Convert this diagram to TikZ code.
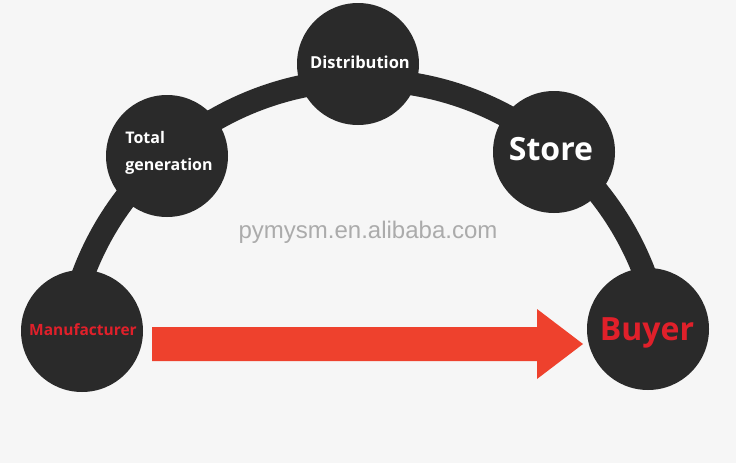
\documentclass[tikz,border=0pt]{standalone}
\usepackage{fontspec}
\setmainfont{Open Sans}
\newfontfamily\wmfont{Liberation Sans}
\definecolor{bg}{HTML}{F6F6F6}
\definecolor{disc}{HTML}{2A2A2A}
\definecolor{arrowred}{HTML}{EE412D}
\definecolor{textred}{HTML}{E0202A}
\begin{document}
\begin{tikzpicture}[x=1pt,y=-1pt,
  stage/.style={circle,fill=disc,minimum size=122pt,inner sep=0pt,font=\bfseries,text=white},
  redlabel/.style={text=textred}]
\fill[bg] (0,0) rectangle (736,463);
\useasboundingbox (0,0) rectangle (736,463);
% arc
\draw[disc,line width=23pt] (68.6,327.9) arc[start angle=170,end angle=10,radius=300pt];
% stages
\node[stage] (man) at (82,331) {};
\node[stage] (tot) at (167,156) {};
\node[stage] (dis) at (358,64) {};
\node[stage] (sto) at (554,152) {};
\node[stage] (buy) at (648,329) {};
\node[font=\bfseries\fontsize{15.5}{18}\selectfont,text=textred] (mant) at (83,330) {Manufacturer};
\node[font=\bfseries\fontsize{16}{27}\selectfont,text=white,align=left] (tott) at (169,153) {Total\\generation};
\node[font=\bfseries\fontsize{16.5}{20}\selectfont,text=white] (dist) at (360,62) {Distribution};
\node[font=\bfseries\fontsize{32}{36}\selectfont,text=white] (stot) at (551,149) {Store};
\node[font=\bfseries\fontsize{32}{36}\selectfont,text=textred] (buyt) at (647,333) {Buyer};
% arrow
\fill[arrowred] (152,327) -- (537,327) -- (537,309) -- (583,344) -- (537,379) -- (537,361) -- (152,361) -- cycle;
% watermark
\node[font=\wmfont\fontsize{24}{26}\selectfont,text=black!33] (wm) at (368,232) {pymysm.en.alibaba.com};
\end{tikzpicture}
\end{document}
